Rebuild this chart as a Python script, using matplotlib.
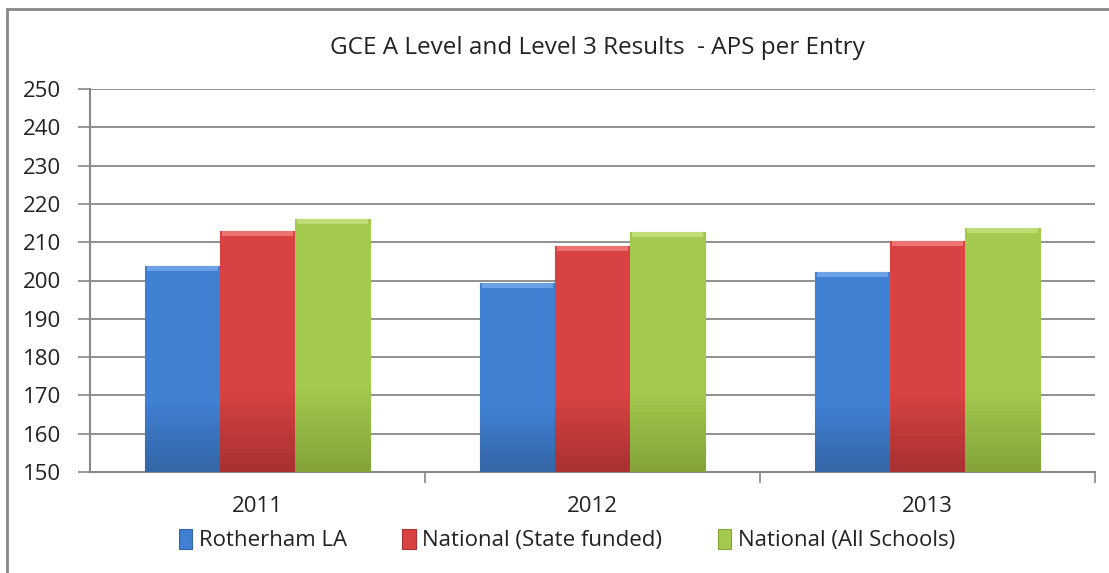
import matplotlib
matplotlib.use("Agg")
import matplotlib.pyplot as plt
from matplotlib.patches import Rectangle, Patch
import numpy as np

plt.rcParams['font.family'] = ['Open Sans', 'DejaVu Sans']

years = ["2011", "2012", "2013"]
series = ["Rotherham LA", "National (State funded)", "National (All Schools)"]
rotherham = [203.7, 199.4, 202.2]
state_funded = [213.0, 209.1, 210.3]
all_schools = [216.0, 212.6, 213.7]
values = [rotherham, state_funded, all_schools]

# (light, main, dark) for each series
colours = [("#6FA6E8", "#3F80D2", "#3566A8"),
           ("#F07878", "#D84242", "#A93131"),
           ("#C4E07A", "#A3CA4E", "#84A43A")]

fig = plt.figure(figsize=(11.09, 5.73), dpi=100)
ax = fig.add_axes([90 / 1109, 1 - 472 / 573, 1005 / 1109, 383 / 573])

x = np.arange(len(years))
w = 0.224
grad = np.linspace(0, 1, 64).reshape(-1, 1)

for i, (vals, (lc, mc, dc)) in enumerate(zip(values, colours)):
    bars = ax.bar(x + (i - 1) * w, np.array(vals) - 150, w, bottom=150,
                  color=mc, edgecolor=dc, linewidth=0.8, zorder=3)
    cmap = matplotlib.colors.LinearSegmentedColormap.from_list("g", [dc, mc, mc, mc])
    for b in bars:
        x0, y0 = b.get_x(), b.get_y()
        bw, bh = b.get_width(), b.get_height()
        im = ax.imshow(grad, cmap=cmap, aspect="auto", origin="lower",
                       extent=(x0, x0 + bw, y0, y0 + bh), zorder=3.5)
        im.set_clip_path(b)
        # bevel cap at the top of the bar
        ax.bar(x0 + bw / 2, 1.3, bw * 0.94, bottom=y0 + bh - 1.3,
               color=lc, linewidth=0, zorder=4, alpha=0.9)

ax.set_xlim(-0.5, 2.5)
ax.set_ylim(150, 250)
ax.set_yticks(np.arange(150, 251, 10))
ax.set_xticks(x)
ax.set_xticklabels(years)
ax.set_xticks([0.5, 1.5, 2.5], minor=True)
ax.tick_params(axis="x", which="major", length=0, pad=17, labelsize=16, colors="#222222")
ax.tick_params(axis="x", which="minor", length=8, width=1.2, color="#888888")
ax.tick_params(axis="y", length=9, width=1.2, color="#888888", labelsize=16,
               labelcolor="#222222", pad=12)
ax.grid(axis="y", color="#888888", linewidth=1.3, zorder=0)
ax.set_axisbelow(True)
for s in ["top", "right"]:
    ax.spines[s].set_visible(False)
for s in ["left", "bottom"]:
    ax.spines[s].set_color("#888888")
    ax.spines[s].set_linewidth(1.5)

fig.text(597 / 1109, 1 - 48 / 573, "GCE A Level and Level 3 Results  - APS per Entry",
         ha="center", va="center", fontsize=17.5, color="#222222")

handles = [Patch(facecolor=mc, edgecolor=dc, linewidth=0.8) for _, mc, dc in colours]
fig.legend(handles, series, loc="center", bbox_to_anchor=(567 / 1109, 1 - 540 / 573),
           ncol=3, frameon=False, fontsize=16, handlelength=0.6, handleheight=1.0,
           handletextpad=0.3, columnspacing=2.5, labelcolor="#222222")

fig.patches.append(Rectangle((7 / 1109, -0.1), 1.2, 1 - 9 / 573 + 0.1,
                             transform=fig.transFigure, fill=False,
                             edgecolor="#888888", linewidth=2))

fig.savefig("out.png", dpi=100)
